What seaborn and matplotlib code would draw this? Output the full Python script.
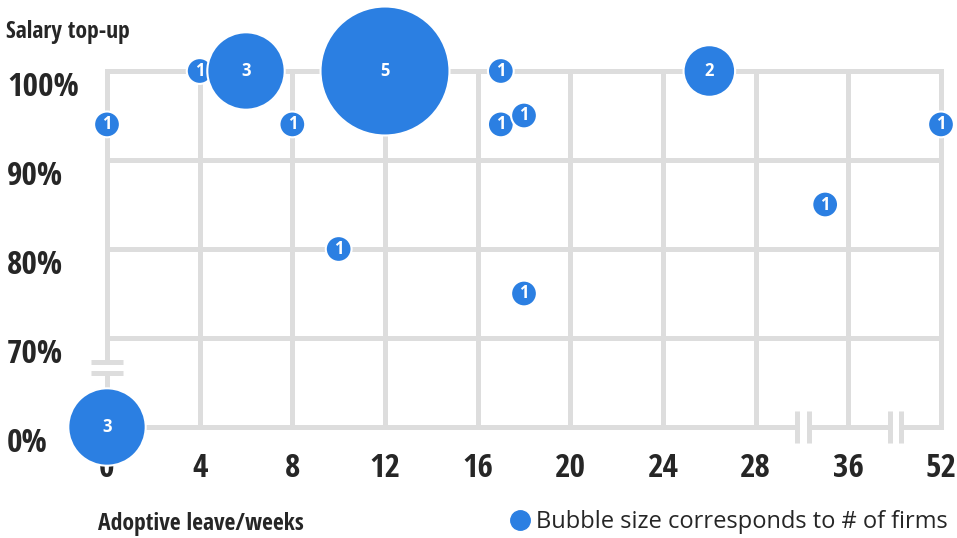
import numpy as np
import pandas as pd
import matplotlib
matplotlib.use("Agg")
import matplotlib.pyplot as plt
import seaborn as sns
from matplotlib import font_manager as fm
from matplotlib.lines import Line2D
from matplotlib.transforms import Affine2D

# data
weeks = [0, 4, 6, 8, 12, 17, 17, 18, 10, 18, 26, 34, 52, 0]
topup = [94, 100, 100, 94, 100, 100, 94, 95, 80, 75, 100, 85, 94, 0]
firms = [1, 1, 3, 1, 5, 1, 1, 1, 1, 1, 2, 1, 1, 3]

x_ticks = [0, 4, 8, 12, 16, 20, 24, 28, 36, 52]
y_ticks = [0, 70, 80, 90, 100]
y_labels = ["0%", "70%", "80%", "90%", "100%"]

BLUE = "#2b7fe2"
GRID = "#dddddd"


def pick(names, **kw):
    for n in names:
        try:
            fm.findfont(fm.FontProperties(family=n, **kw), fallback_to_default=False)
            return n
        except ValueError:
            pass
    return "DejaVu Sans"


def piecewise(xp, fp):
    xp = np.asarray(xp, float)
    fp = np.asarray(fp, float)
    lo = (fp[1] - fp[0]) / (xp[1] - xp[0])
    hi = (fp[-1] - fp[-2]) / (xp[-1] - xp[-2])

    def f(x):
        x = np.asarray(x, float)
        return np.where(x < xp[0], fp[0] + (x - xp[0]) * lo,
                        np.where(x > xp[-1], fp[-1] + (x - xp[-1]) * hi,
                                 np.interp(x, xp, fp)))
    return f


sns.set_style("white")
COND = pick(["Open Sans Condensed", "Roboto Condensed", "Liberation Sans Narrow"])
plt.rcParams["font.family"] = ["Open Sans", "DejaVu Sans"]

df = pd.DataFrame({"weeks": weeks, "topup": topup, "firms": firms})

fig = plt.figure(figsize=(9.57, 5.38), dpi=100)
ax = fig.add_axes([107 / 957, 111 / 538, 834 / 957, 356 / 538])

xpos = np.arange(len(x_ticks))
ypos = np.arange(len(y_ticks))
ax.set_xscale("function", functions=(piecewise(x_ticks, xpos), piecewise(xpos, x_ticks)))
ax.set_yscale("function", functions=(piecewise(y_ticks, ypos), piecewise(ypos, y_ticks)))
ax.set_xlim(0, 52)
ax.set_ylim(0, 100)

# grid drawn in tick-position space so the breaks can be placed
pos = Affine2D().scale(1 / 9, 1 / 4) + ax.transAxes
gkw = dict(color=GRID, lw=3.6, solid_capstyle="projecting", transform=pos,
           clip_on=False, zorder=0)
for yy in [1, 2, 3, 4]:
    ax.plot([0, 9], [yy, yy], **gkw)
for xa, xb in [(0, 7.45), (7.58, 8.45), (8.57, 9)]:
    ax.plot([xa, xb], [0, 0], **gkw)
for xx in range(1, 10):
    ax.plot([xx, xx], [0, 4], **gkw)
ax.plot([0, 0], [0.73, 4], **gkw)
ax.plot([0, 0], [0, 0.61], **gkw)
bkw = dict(gkw, solid_capstyle="butt")
for yy in [0.61, 0.73]:
    ax.plot([-0.17, 0.17], [yy, yy], **bkw)
for xx in [7.45, 7.58, 8.45, 8.57]:
    ax.plot([xx, xx], [-0.18, 0.18], **bkw)

size_map = {n: 345 * n ** 2 for n in sorted(set(firms))}
sns.scatterplot(data=df, x="weeks", y="topup", size="firms", sizes=size_map,
                color=BLUE, edgecolor="white", linewidth=1.5, legend=False,
                ax=ax, zorder=3, clip_on=False)
for w, t, n in zip(weeks, topup, firms):
    ax.text(w, t, str(n), ha="center", va="center", color="white",
            fontsize=12, fontweight="bold", zorder=4, clip_on=False)

ax.set_xticks(x_ticks, labels=[str(v) for v in x_ticks])
ax.set_yticks(y_ticks, labels=y_labels)
ax.tick_params(axis="both", length=0)
ax.tick_params(axis="x", pad=18)
ax.tick_params(axis="y", pad=72)
for lab in ax.get_xticklabels() + ax.get_yticklabels():
    lab.set_fontfamily(COND)
    lab.set_fontweight("bold")
    lab.set_fontsize(24)
for lab in ax.get_yticklabels():
    lab.set_ha("left")
    lab.set_va("top")
ax.set_xlabel("")
ax.set_ylabel("")
for s in ax.spines.values():
    s.set_visible(False)

fig.text(6 / 957, 1 - 32 / 538, "Salary top-up", family=COND, fontweight="bold",
         fontsize=17, va="center", ha="left")
fig.text(98 / 957, 1 - 524 / 538, "Adoptive leave/weeks", family=COND,
         fontweight="bold", fontsize=17, va="center", ha="left")

handle = Line2D([0], [0], marker="o", ls="", markerfacecolor=BLUE,
                markeredgecolor=BLUE, markersize=14)
fig.legend(handles=[handle], labels=["Bubble size corresponds to # of firms"],
           loc="center right", bbox_to_anchor=(948 / 957, 1 - 522 / 538),
           frameon=False, prop={"family": "Open Sans", "size": 17},
           handletextpad=0.2, handlelength=1, borderpad=0, borderaxespad=0)

fig.savefig("out.png", dpi=100)
